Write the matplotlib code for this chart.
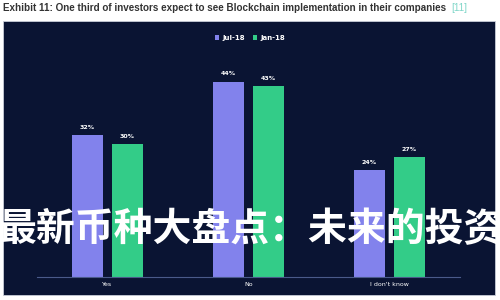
import matplotlib
matplotlib.use("Agg")
import matplotlib.pyplot as plt
from matplotlib.patches import Rectangle
import numpy as np

# данные с картинки
categories = ["Yes", "No", "I don't know"]
jul_18 = [32, 44, 24]
jan_18 = [30, 43, 27]
series_names = ["Jul-18", "Jan-18"]
title_text = "Exhibit 11: One third of investors expect to see Blockchain implementation in their companies"
overlay_text = "最新币种大盘点：未来的投资"

navy = "#0a1433"
purple = "#8282ec"
green = "#33cc88"

plt.rcParams['font.family'] = ['DejaVu Sans', 'Noto Sans CJK SC']

fig = plt.figure(figsize=(5, 3), dpi=100)
fig.patch.set_facecolor("white")

# тёмная панель
fig.add_artist(Rectangle((0.006, 0.017), 0.984, 0.913, transform=fig.transFigure,
                         facecolor=navy, edgecolor="#c8ccd8", linewidth=0.6, zorder=0))

fig.text(0.006, 0.972, title_text, fontsize=7.1, fontweight="bold", color="#333333",
         va="center", ha="left", family="Liberation Sans")
fig.text(0.902, 0.972, "[11]", fontsize=7.1, color="#7fd6c8", va="center", ha="left",
         family="Liberation Sans")

ax = fig.add_axes([0.074, 0.077, 0.846, 0.739])
ax.patch.set_alpha(0)

x = np.arange(len(categories))
w = 0.22
b1 = ax.bar(x - 0.142, jul_18, w, color=purple, label=series_names[0])
b2 = ax.bar(x + 0.142, jan_18, w, color=green, label=series_names[1])

for bars in (b1, b2):
    for r in bars:
        ax.text(r.get_x() + r.get_width() / 2, r.get_height() + 1.2, f"{int(r.get_height())}%",
                ha="center", va="bottom", color="white", fontsize=4.5, fontweight="bold")

ax.set_xlim(-0.5, 2.5)
ax.set_ylim(0, 50)
ax.set_yticks([])
ax.set_xticks(x)
ax.set_xticklabels(categories, color="white", fontsize=4.5)
ax.tick_params(axis="x", length=0, pad=4)
for s in ["top", "right", "left"]:
    ax.spines[s].set_visible(False)
ax.spines["bottom"].set_color("#4a5a8a")
ax.spines["bottom"].set_linewidth(0.8)

leg = fig.legend(loc="center", bbox_to_anchor=(0.5, 0.873), ncol=2, frameon=False,
                 fontsize=5, handlelength=0.6, handleheight=0.6, columnspacing=1.2,
                 handletextpad=0.4)
for t in leg.get_texts():
    t.set_color("white")
    t.set_fontweight("bold")

fig.text(0.5, 0.235, overlay_text, fontsize=28, color="white", fontweight="heavy",
         ha="center", va="center", family=["Noto Sans CJK SC", "DejaVu Sans"])

fig.savefig("out.png", dpi=100)
